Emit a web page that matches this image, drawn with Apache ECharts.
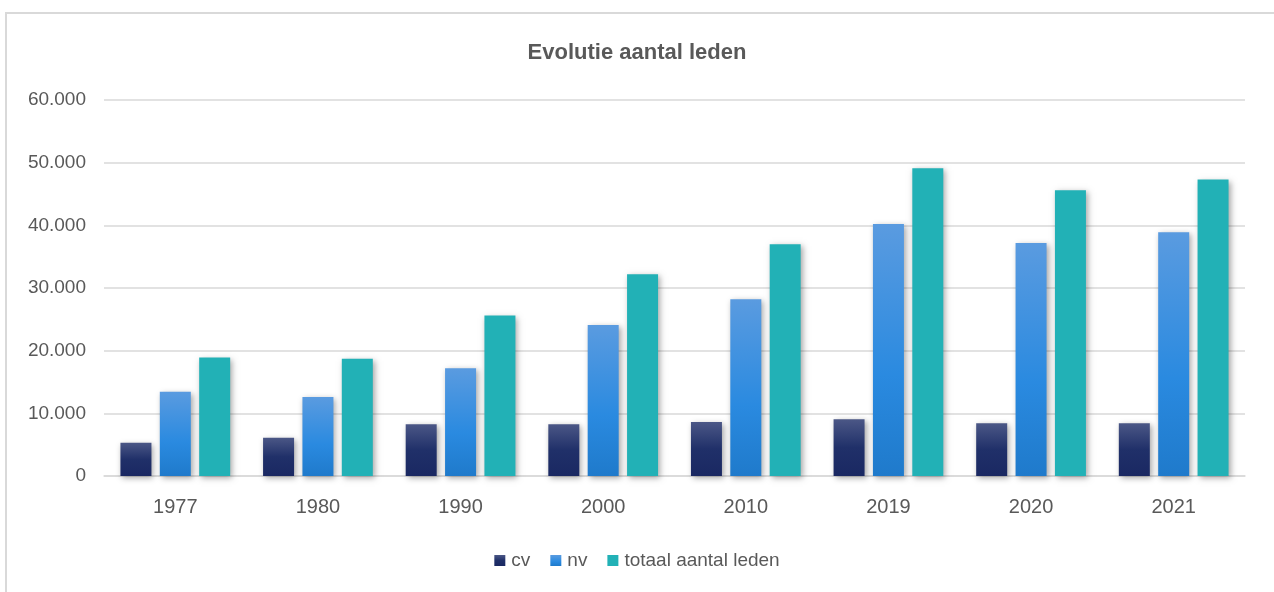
<!DOCTYPE html>
<html>
<head>
<meta charset="utf-8">
<script src="https://cdn.jsdelivr.net/npm/echarts@6/dist/echarts.min.js"></script>
<style>
  html, body { margin: 0; padding: 0; background: #ffffff; }
  #frame { position: absolute; left: 5px; top: 12px; width: 1269px; height: 580px;
           border-top: 2px solid #d9d9d9; border-left: 2px solid #d9d9d9; box-sizing: border-box; }
  #chart { position: absolute; left: 0; top: 0; width: 1274px; height: 592px; }
</style>
</head>
<body>
<div id="frame"></div>
<div id="chart"></div>
<script>
const categories = ['1977', '1980', '1990', '2000', '2010', '2019', '2020', '2021'];
const cvValues = [5300, 6100, 8250, 8250, 8600, 9050, 8400, 8400];
const nvValues = [13450, 12600, 17200, 24100, 28200, 40200, 37200, 38900];
const totaalValues = [18900, 18700, 25600, 32200, 37000, 49100, 45600, 47300];
const seriesNames = ['cv', 'nv', 'totaal aantal leden'];
const yTicks = { min: 0, max: 60000, interval: 10000 };

const fontFamily = "'Liberation Sans', 'DejaVu Sans', sans-serif";
const textColor = '#595959';

function fmt(v) {
  return String(v).replace(/\B(?=(\d{3})+(?!\d))/g, '.');
}

const shadow = {
  shadowBlur: 6,
  shadowColor: 'rgba(0,0,0,0.35)',
  shadowOffsetX: 2,
  shadowOffsetY: 2
};

const cvColor = new echarts.graphic.LinearGradient(0, 0, 0, 1, [
  { offset: 0, color: '#4b5786' },
  { offset: 0.5, color: '#203069' },
  { offset: 1, color: '#1a2862' }
]);
const nvColor = new echarts.graphic.LinearGradient(0, 0, 0, 1, [
  { offset: 0, color: '#5a9be0' },
  { offset: 0.6, color: '#2a8ae0' },
  { offset: 1, color: '#1f7acb' }
]);
const totColor = '#22b1b6';

const chart = echarts.init(document.getElementById('chart'), null, { renderer: 'canvas' });
chart.setOption({
  backgroundColor: 'transparent',
  animation: false,
  title: {
    text: 'Evolutie aantal leden',
    left: 'center',
    top: 37,
    textStyle: { fontFamily, fontSize: 22, fontWeight: 'bold', color: textColor }
  },
  legend: {
    data: seriesNames,
    bottom: 17,
    left: 'center',
    itemWidth: 11,
    itemHeight: 11,
    itemGap: 20,
    icon: 'rect',
    textStyle: { fontFamily, fontSize: 19, color: textColor, padding: [0, 0, 0, 1] }
  },
  grid: { left: 104, right: 29, top: 100, bottom: 116, containLabel: false },
  xAxis: {
    type: 'category',
    data: categories,
    axisLine: { show: true, lineStyle: { color: '#d9d9d9', width: 1.5 } },
    axisTick: { show: false },
    axisLabel: { fontFamily, fontSize: 20, color: textColor, margin: 21 }
  },
  yAxis: {
    type: 'value',
    min: yTicks.min,
    max: yTicks.max,
    interval: yTicks.interval,
    axisLine: { show: false },
    axisTick: { show: false },
    splitLine: { lineStyle: { color: '#d9d9d9', width: 1.5 } },
    axisLabel: { fontFamily, fontSize: 19, color: textColor, margin: 18, formatter: fmt }
  },
  series: [
    { name: seriesNames[0], type: 'bar', data: cvValues, barWidth: 31, barGap: '27%',
      itemStyle: Object.assign({ color: cvColor }, shadow) },
    { name: seriesNames[1], type: 'bar', data: nvValues, barWidth: 31, barGap: '27%',
      itemStyle: Object.assign({ color: nvColor }, shadow) },
    { name: seriesNames[2], type: 'bar', data: totaalValues, barWidth: 31, barGap: '27%',
      itemStyle: Object.assign({ color: totColor }, shadow) }
  ]
});
</script>
</body>
</html>
